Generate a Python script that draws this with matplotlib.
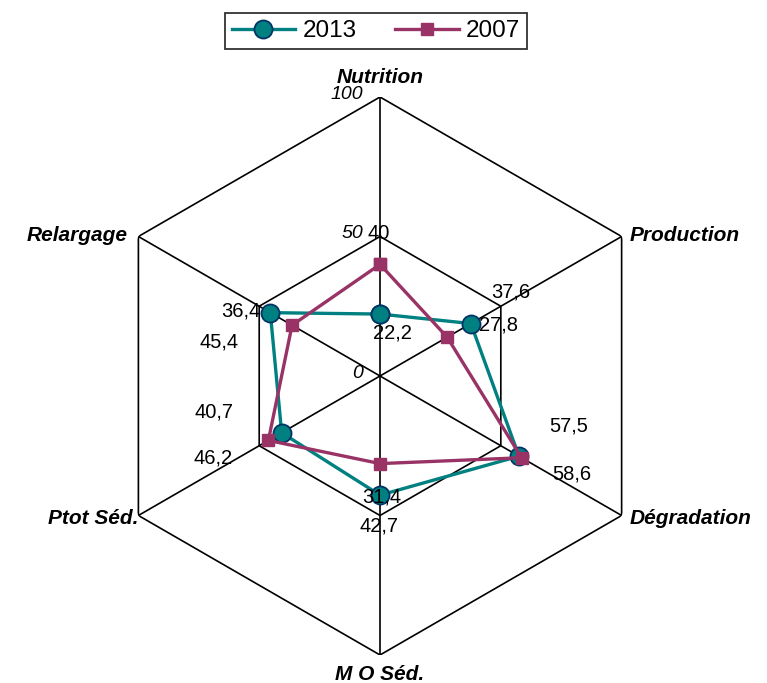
import numpy as np
import matplotlib.pyplot as plt

plt.rcParams['font.family'] = ['Liberation Sans', 'DejaVu Sans']

categories = ["Nutrition", "Production", "Dégradation", "M O Séd.", "Ptot Séd.", "Relargage"]
v2013 = [22.2, 37.6, 57.5, 42.7, 40.7, 45.4]
v2007 = [40.0, 27.8, 58.6, 31.4, 46.2, 36.4]
ticks = [0, 50, 100]

# label offsets (points) of each data label from its marker
off2013 = [(9, -14), (29, 23), (36, 22), (-1, -22), (-49, 15), (-37, -21)]
off2007 = [(-1, 22), (37, 9), (36, -12), (1, -24), (-40, -13), (-37, 10)]
# category label offsets from outer vertex
cat_off = [(0, 14), (6, 1), (6, -2), (0, -14), (0, -2), (-8, 1)]
cat_ha = ["center", "left", "left", "center", "right", "right"]

n = len(categories)
theta = np.arange(n) * 2 * np.pi / n
theta_c = np.append(theta, theta[0])

fig = plt.figure(figsize=(7.67, 6.83), dpi=100)
ax = fig.add_axes([0.1317, 0.041, 0.7275, 0.817], projection="polar")
ax.set_theta_zero_location("N")
ax.set_theta_direction(-1)
ax.set_ylim(0, 100)
ax.grid(False)
ax.spines["polar"].set_visible(False)
ax.set_xticks([])
ax.set_yticks([])
ax.patch.set_alpha(0)

# hexagonal grid and spokes
for r in ticks[1:]:
    ax.plot(theta_c, [r] * (n + 1), color="black", lw=1.2, zorder=1)
for t in theta:
    ax.plot([t, t], [0, 100], color="black", lw=1.2, zorder=1)

for r in ticks:
    ax.annotate(str(r), xy=(0, r), xytext=(-12, 2), textcoords="offset points",
                ha="right", va="center", fontsize=14, style="italic")

ax.plot(theta_c, np.append(v2013, v2013[0]), color="#008080", lw=2.4,
        marker="o", ms=13, mfc="#008080", mec="#003366", mew=1.3,
        label="2013", zorder=3, clip_on=False)
ax.plot(theta_c, np.append(v2007, v2007[0]), color="#993366", lw=2.4,
        marker="s", ms=8.5, mfc="#993366", mec="#993366",
        label="2007", zorder=4, clip_on=False)

for vals, offs in ((v2013, off2013), (v2007, off2007)):
    for t, v, o in zip(theta, vals, offs):
        ax.annotate(f"{v:g}".replace(".", ","), xy=(t, v), xytext=o,
                    textcoords="offset points", ha="center", va="center",
                    fontsize=14.5, zorder=5)

for t, c, o, ha in zip(theta, categories, cat_off, cat_ha):
    ax.annotate(c, xy=(t, 100), xytext=o, textcoords="offset points",
                ha=ha, va="center", fontsize=15, weight="bold", style="italic")

leg = fig.legend(loc="center", bbox_to_anchor=(376 / 767, 1 - 31 / 683), ncol=2,
                 fontsize=17.5, frameon=True, fancybox=False, edgecolor="black",
                 handlelength=2.6, handletextpad=0.3, columnspacing=1.6,
                 borderpad=0.3)
leg.get_frame().set_linewidth(1.3)

fig.savefig("out.png", dpi=100)
